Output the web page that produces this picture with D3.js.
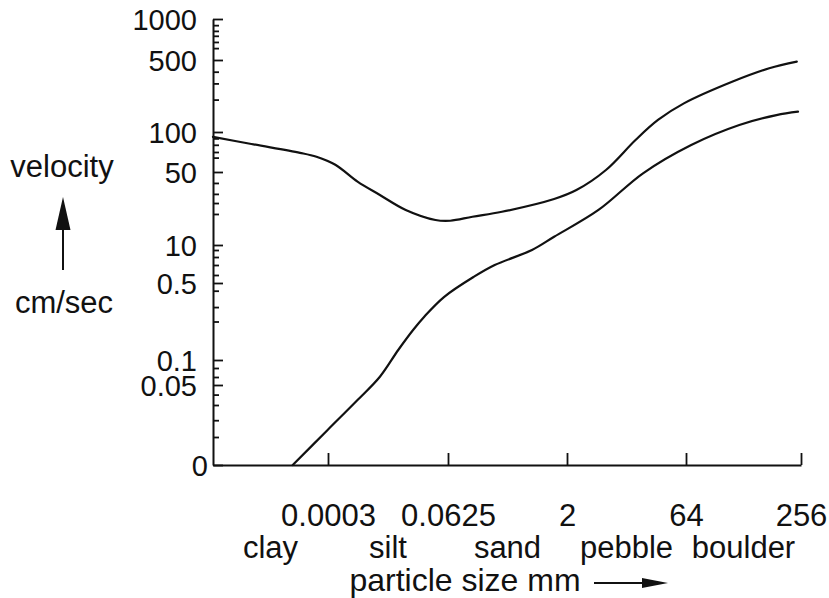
<!DOCTYPE html>
<html>
<head>
<meta charset="utf-8">
<script src="https://cdn.jsdelivr.net/npm/d3@7"></script>
<style>
  html, body { margin: 0; padding: 0; background: #fff; }
  svg { display: block; }
  text { font-family: "Liberation Sans", Arial, Helvetica, sans-serif; fill: #111; }
</style>
</head>
<body>
<svg id="chart" width="829" height="598"></svg>
<script>
// ---------- data ----------
const sizeTicks = [0.0003, 0.0625, 2, 64, 256];            // particle size (mm)
const sizeClasses = ["clay", "silt", "sand", "pebble", "boulder"];
const velocityTicks = [0, 0.05, 0.1, 0.5, 10, 50, 100, 500, 1000];
const velocityMinorTicks = [925, 855, 795, 720, 645, 435, 370, 280, 92, 84, 75, 68,
  44, 38, 33, 27, 8.75, 7, 5, 2.5, 0.46, 0.375, 0.3, 0.084, 0.066, 0.044, 0.0375, 0.028, 0.0175];

// upper curve (erosion)
const erosionSize = [0, 0.0001, 0.000227, 0.00027, 0.0041, 0.0156, 0.0272, 0.0406, 0.056, 0.098,
  0.46, 0.94, 1.79, 6.9, 22.3, 37.7, 49.4, 62.9, 141, 203, 249];
const erosionVelocity = [94, 85, 74, 69, 59, 44.7, 37.4, 29.2, 23.7, 23.3,
  25.5, 28.2, 35.2, 40.1, 52.5, 90, 167, 259, 379, 454, 491];

// lower curve (deposition)
const depositSize = [0.000208, 0.000299, 0.0156, 0.0272, 0.0367, 0.0444, 0.0502, 0.0604, 0.486,
  0.823, 1.43, 1.79, 18.4, 41.6, 72.7, 153, 215, 251];
const depositVelocity = [0, 0.0219, 0.0406, 0.0666, 0.152, 0.256, 0.325, 0.427, 2.08,
  5.0, 8.75, 14.5, 29.2, 49.3, 83.8, 139, 194, 213];

// ---------- layout ----------
const svg = d3.select("#chart");
const ink = "#111";
const sizeDomain = [0].concat(sizeTicks);

const x = d3.scaleLinear().domain(sizeDomain).range([213, 328, 448, 567, 686, 801]);
const y = d3.scaleLinear().domain(velocityTicks).range([465, 385, 360, 283, 245, 172, 132, 60, 19]);

// y axis – major ticks
const yAxis = svg.append("g").attr("transform", "translate(213,0)")
  .call(d3.axisLeft(y).tickValues(velocityTicks).tickFormat(d => String(d))
    .tickSizeInner(-10).tickSizeOuter(0).tickPadding(16));
// y axis – minor ticks
const yMinor = svg.append("g").attr("transform", "translate(213,0)")
  .call(d3.axisLeft(y).tickValues(velocityMinorTicks).tickFormat("")
    .tickSizeInner(-6).tickSizeOuter(0));
yMinor.select(".domain").remove();

// x axis
const xAxis = svg.append("g").attr("transform", "translate(0,465)")
  .call(d3.axisBottom(x).tickValues(sizeTicks).tickFormat(d => String(d))
    .tickSizeInner(-12).tickSizeOuter(0).tickPadding(39));

[yAxis, yMinor, xAxis].forEach(g => {
  g.selectAll(".domain").attr("stroke", ink).attr("stroke-width", 2);
  g.selectAll(".tick line").attr("stroke", ink).attr("stroke-width", 1.8);
  g.selectAll(".tick text").attr("fill", ink)
    .style("font-family", '"Liberation Sans", Arial, sans-serif');
});
xAxis.selectAll(".tick text").style("font-size", "31px");
yAxis.selectAll(".tick text").style("font-size", "29px").attr("dy", "0.37em");
yAxis.selectAll(".tick text").filter(d => d === 0).attr("x", -5);

// size classes
svg.append("g").selectAll("text").data(sizeClasses).join("text")
  .attr("x", (d, i) => (x(sizeDomain[i]) + x(sizeDomain[i + 1])) / 2)
  .attr("y", 558)
  .attr("text-anchor", "middle")
  .style("font-size", "31px")
  .text(d => d);

// x title and arrow
svg.append("text").attr("x", 465).attr("y", 591).attr("text-anchor", "middle")
  .style("font-size", "32px").text("particle size mm");
svg.append("line").attr("x1", 594).attr("x2", 645).attr("y1", 583).attr("y2", 583)
  .attr("stroke", ink).attr("stroke-width", 2);
svg.append("path").attr("d", "M642,578L668,583L642,588Z").attr("fill", ink);

// y title and arrow
svg.append("text").attr("x", 62).attr("y", 177).attr("text-anchor", "middle")
  .style("font-size", "31px").text("velocity");
svg.append("line").attr("x1", 63).attr("x2", 63).attr("y1", 270).attr("y2", 225)
  .attr("stroke", ink).attr("stroke-width", 2);
svg.append("path").attr("d", "M63,197L70.5,230L55.5,230Z").attr("fill", ink);
svg.append("text").attr("x", 64).attr("y", 313).attr("text-anchor", "middle")
  .style("font-size", "31px").text("cm/sec");

// curves
const line = d3.line().x(d => x(d[0])).y(d => y(d[1])).curve(d3.curveCatmullRom.alpha(0.5));
const erosion = erosionSize.map((s, i) => [s, erosionVelocity[i]]);
const deposit = depositSize.map((s, i) => [s, depositVelocity[i]]);
[erosion, deposit].forEach(pts => {
  svg.append("path").datum(pts).attr("d", line)
    .attr("fill", "none").attr("stroke", ink).attr("stroke-width", 2.2)
    .attr("stroke-linejoin", "round").attr("stroke-linecap", "round");
});
</script>
</body>
</html>
